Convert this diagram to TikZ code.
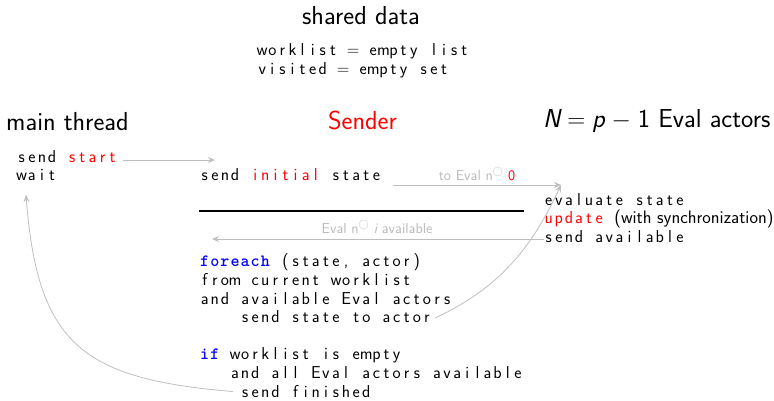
\documentclass[tikz,border=0pt]{standalone}
\usepackage{fontspec}
\usetikzlibrary{arrows.meta,calc}
\renewcommand\familydefault{\sfdefault}
\newfontfamily\kwfont{lmmonolt10-bold.otf}
\newlength\cwd
\setlength\cwd{10.1pt}
\ExplSyntaxOn
\NewDocumentCommand\cw{m}{\str_map_inline:nn {#1} {\makebox[\cwd][c]{##1}}}
\ExplSyntaxOff
\newcommand\kw[1]{{\kwfont\color{blue}\cw{#1}}}
\newcommand\rd[1]{{\color{red}\cw{#1}}}
\newcommand\mydeg{$^{\bigcirc}$}
\tikzset{
  ttl/.style={font=\sffamily\fontsize{26}{30}\selectfont, inner sep=0pt},
  code/.style={font=\sffamily\fontsize{17.2}{19}\selectfont, inner sep=0pt, anchor=base west, text height=12pt, text depth=2.6pt},
  lbl/.style={font=\sffamily\fontsize{14.5}{16}\selectfont, text=gray!55, inner sep=0pt, anchor=base},
  arr/.style={draw=gray!50, line width=0.8pt, -{Stealth[length=7pt,width=6pt,inset=2.5pt]}},
}
\begin{document}
\begin{tikzpicture}[x=1pt,y=-1pt]
\path[use as bounding box] (0,0) rectangle (774,400);
% headings
\node[ttl,anchor=base] (shared) at (361,24) {shared data};
\node[code] (w1) at (257,55.7) {\cw{worklist = empty list}};
\node[code] (w2) at (257,74) {\cw{visited = empty set}};
\node[ttl,anchor=base west] (main) at (6,130) {main thread};
\node[ttl,anchor=base,text=red] (sender) at (362.5,129) {Sender};
\node[ttl,anchor=base west] (evalh) at (543,127) {{\itshape N}$\;=\;${\itshape p}$\;-\;$1 Eval actors};
% main thread
\node[code] (ss) at (16.5,162) {\cw{send }\rd{start}};
\node[code] (wt) at (16.5,180) {\cw{wait}};
% sender
\node[code] (si) at (199.5,180.7) {\cw{send }\rd{initial}\cw{ state}};
\node[code] (f1) at (199.5,266.7) {\kw{foreach}\cw{ (state, actor)}};
\node[code] (f2) at (199.5,285.35) {\cw{from current worklist}};
\node[code] (f3) at (199.5,304) {\cw{and available Eval actors}};
\node[code] (f4) at (239.9,322.65) {\cw{send state to actor}};
\node[code] (i1) at (199.5,359.95) {\kw{if}\cw{ worklist is empty}};
\node[code] (i2) at (229.8,378.6) {\cw{and all Eval actors available}};
\node[code] (i3) at (239.9,397.25) {\cw{send finished}};
% eval actors
\node[code] (e1) at (543.5,205) {\cw{evaluate state}};
\node[code] (e2) at (543.5,223.5) {\rd{update}\cw{ }{\fontsize{18.1}{20}\selectfont(with synchronization)}};
\node[code] (e3) at (543.5,242) {\cw{send available}};
% separator
\draw[line width=1.6pt] (199,210.7) -- (524,210.7);
% connectors
\coordinate (t1) at (215,160);
\coordinate (ev) at (561,185);
\coordinate (av) at (212,239);
\coordinate (wb) at (26,195);
\draw[arr] ($(ss.east)+(5,2.7)$) -- (t1);
\draw[arr] ($(si.east)+(11,9)$) -- (ev);
\node[lbl] (l1) at (477,180) {to Eval n\mydeg\ {\color{red}0}};
\draw[arr] ($(e3.west)+(0,1.7)$) -- (av);
\node[lbl] (l2) at (377,233) {Eval n\mydeg\ {\itshape i} available};
\draw[arr] ($(f4.east)+(3,0)$) .. controls +(64,-30) and +(-30,64) .. (ev);
\draw[arr] ($(i3.west)+(-7,-1)$) .. controls +(-150,-12.6) and +(11.6,150) .. (wb);
\end{tikzpicture}
\end{document}
